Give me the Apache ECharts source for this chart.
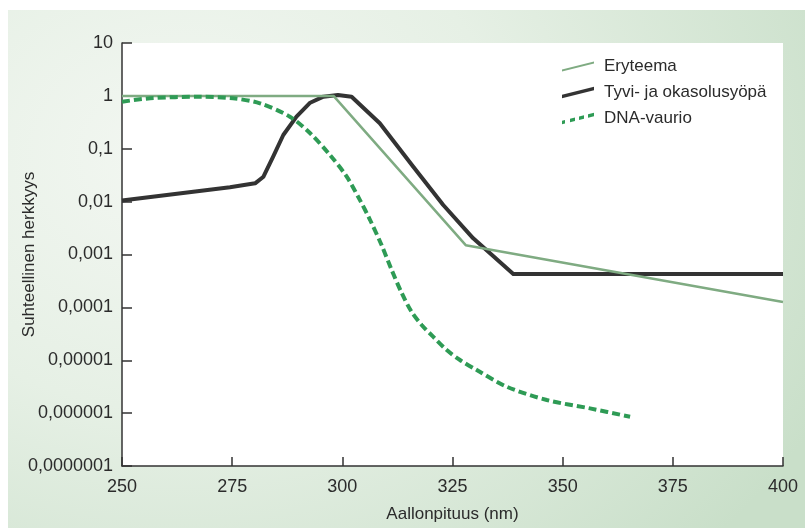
<!DOCTYPE html>
<html>
<head>
<meta charset="utf-8">
<script src="https://cdn.jsdelivr.net/npm/echarts@6/dist/echarts.min.js"></script>
<style>
  html, body { margin: 0; padding: 0; background: #fff; }
  #bg {
    position: absolute; left: 8px; top: 10px; width: 797px; height: 518px;
    background: radial-gradient(ellipse 90% 110% at 22% 28%, #f3f7f2 0%, #e6f0e5 45%, #c9dfc9 100%);
  }
  #chart { position: absolute; left: 0; top: 0; width: 805px; height: 528px; }
</style>
</head>
<body>
<div id="bg"></div>
<div id="chart"></div>
<script>
// Aallonpituus (nm) ja suhteellinen herkkyys, luettu kuvasta
var eryteemaX = [250, 298, 328, 400];
var eryteemaY = [1, 1, 0.0015, 0.000126];

var syopaX = [250, 274.5, 280.2, 282.1, 284.3, 286.6, 289.6, 292.7, 295.7, 299, 302.1, 308.5, 316.1, 322.9, 329.7, 338.8, 400];
var syopaY = [0.0105, 0.0187, 0.0222, 0.0296, 0.0707, 0.182, 0.404, 0.743, 0.965, 1.04, 0.965, 0.303, 0.0458, 0.00863, 0.00202, 0.000428, 0.000428];

var dnaX = [250, 256.4, 267.7, 275.2, 281.3, 288.1, 292.7, 297.2, 301, 304, 306.3, 308.9, 311.2, 313.5, 315.7, 318, 320.6, 323.7, 326.7, 330.5, 337.3, 346.4, 356.2, 365.3];
var dnaY = [0.776, 0.9, 0.965, 0.9, 0.724, 0.404, 0.196, 0.076, 0.0296, 0.0107, 0.00449, 0.00151, 0.000509, 0.000185, 0.0000828, 0.0000465, 0.0000279, 0.0000156, 0.0000101, 0.00000655, 0.00000316, 0.00000177, 0.00000123, 0.000000855];

var yTickLabels = ['0,0000001', '0,000001', '0,00001', '0,0001', '0,001', '0,01', '0,1', '1', '10'];

// vinot selitekuvakkeet
var iconEry = 'path://M0,10 L32,2 L32,4.2 L0,12.2 Z';
var iconSyopa = 'path://M0,9.5 L32,1.5 L32,5.2 L0,13.2 Z';
var iconDna = 'path://M0,10 L3,9.25 L3,12.75 L0,13.5 Z M8,8 L13,6.75 L13,10.25 L8,11.5 Z M17,5.75 L22,4.5 L22,8 L17,9.25 Z M26,3.5 L32,2 L32,5.5 L26,7 Z';

function pairs(xs, ys) {
  var out = [];
  for (var i = 0; i < xs.length; i++) out.push([xs[i], ys[i]]);
  return out;
}

var chart = echarts.init(document.getElementById('chart'));
var font = 'Liberation Sans, Arial, sans-serif';

var option = {
  backgroundColor: 'transparent',
  textStyle: { fontFamily: font },
  grid: {
    left: 122, right: 22, top: 43, bottom: 62,
    outerBoundsMode: 'none',
    show: true, backgroundColor: '#ffffff', borderWidth: 0
  },
  legend: {
    orient: 'vertical',
    left: 557, top: 53,
    itemWidth: 32, itemHeight: 14, itemGap: 9,
    textStyle: { fontSize: 17, color: '#2b2b2b', fontFamily: font, padding: [0, 0, 0, 5] },
    data: [
      { name: 'Eryteema', icon: iconEry },
      { name: 'Tyvi- ja okasolusyöpä', icon: iconSyopa },
      { name: 'DNA-vaurio', icon: iconDna }
    ]
  },
  xAxis: {
    type: 'value', min: 250, max: 400, interval: 25,
    name: 'Aallonpituus (nm)', nameLocation: 'middle', nameGap: 40,
    nameMoveOverlap: false,
    nameTextStyle: { fontSize: 17, color: '#2b2b2b' },
    axisLine: { lineStyle: { color: '#333', width: 1.5 } },
    axisTick: { inside: true, length: 9, lineStyle: { color: '#333', width: 1.5 } },
    axisLabel: { fontSize: 18, color: '#2b2b2b', margin: 12 },
    splitLine: { show: false }
  },
  yAxis: {
    type: 'log', logBase: 10, min: 0.0000001, max: 10, interval: 1,
    name: 'Suhteellinen herkkyys', nameLocation: 'middle', nameGap: 84,
    nameMoveOverlap: false,
    nameTextStyle: { fontSize: 17, color: '#2b2b2b' },
    axisLine: { show: true, lineStyle: { color: '#333', width: 1.5 } },
    axisTick: { show: true, inside: true, length: 10, lineStyle: { color: '#333', width: 1.5 } },
    axisLabel: {
      fontSize: 18, color: '#2b2b2b', margin: 9,
      formatter: function (v) {
        var e = Math.round(Math.log10(v));
        return yTickLabels[e + 7];
      }
    },
    splitLine: { show: false }
  },
  series: [
    {
      name: 'Eryteema', type: 'line', symbol: 'none',
      data: pairs(eryteemaX, eryteemaY),
      lineStyle: { color: '#7fab82', width: 2.5 },
      itemStyle: { color: '#7fab82' }, z: 3
    },
    {
      name: 'Tyvi- ja okasolusyöpä', type: 'line', symbol: 'none',
      data: pairs(syopaX, syopaY),
      lineStyle: { color: '#333333', width: 4, join: 'round' },
      itemStyle: { color: '#333333' }, z: 2
    },
    {
      name: 'DNA-vaurio', type: 'line', symbol: 'none', smooth: 0.3,
      data: pairs(dnaX, dnaY),
      lineStyle: { color: '#2e9b55', width: 4, type: [8, 4] },
      itemStyle: { color: '#2e9b55' }, z: 4
    }
  ]
};
chart.setOption(option);
</script>
</body>
</html>
